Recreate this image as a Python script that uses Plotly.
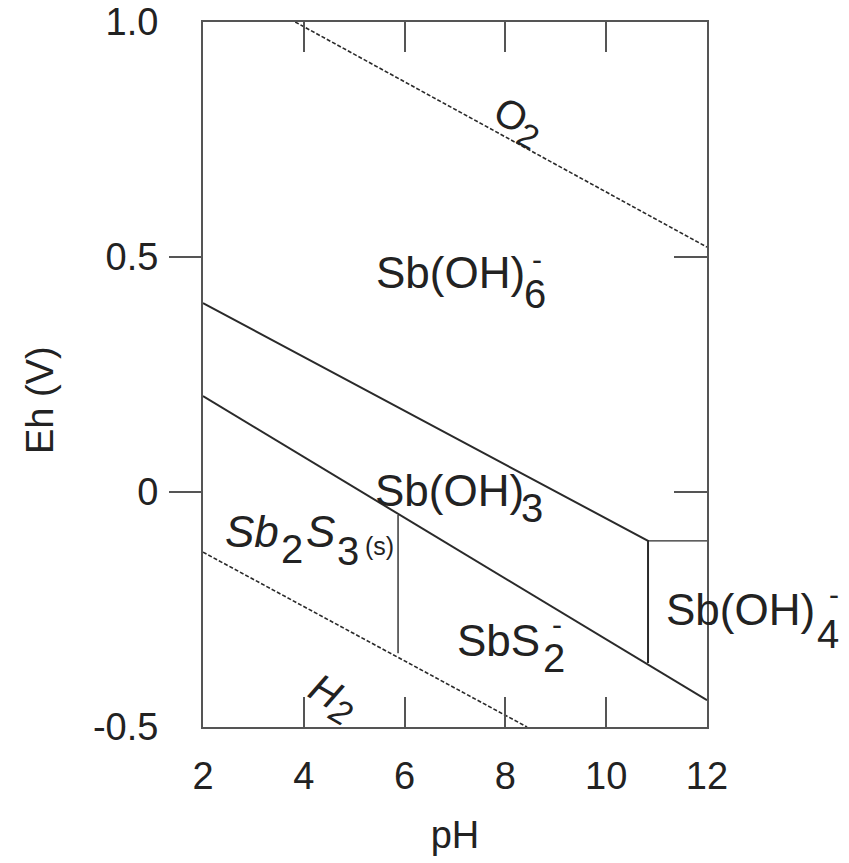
import plotly.graph_objects as go

# Boundary lines (pH, Eh)
o2_ph = [3.83, 12.0]
o2_eh = [1.0, 0.521]
h2_ph = [2.0, 8.43]
h2_eh = [-0.128, -0.5]
upper_ph = [2.0, 10.83, 10.83]
upper_eh = [0.402, -0.104, -0.364]
oh4_ph = [10.83, 12.0]
oh4_eh = [-0.104, -0.104]
lower_ph = [2.0, 12.0]
lower_eh = [0.204, -0.443]
sb2s3_ph = [5.87, 5.87]
sb2s3_eh = [-0.049, -0.343]

x_ticks = [2, 4, 6, 8, 10, 12]
y_ticks = [-0.5, 0, 0.5, 1.0]
y_ticktext = ["-0.5", "0", "0.5", "1.0"]
y_minor = [0, 0.5]

PH_MIN, PH_MAX = 2, 12

FONT = "Liberation Sans, Arial, sans-serif"
LINE = "#2a2a2a"
FRAME = "#555555"
TXT = "#222222"

fig = go.Figure()

def add_line(xs, ys, dash="solid", width=2):
    fig.add_trace(go.Scatter(x=xs, y=ys, mode="lines",
                             line=dict(color=LINE, width=width, dash=dash),
                             hoverinfo="skip", showlegend=False))

add_line(o2_ph, o2_eh, dash="4px,2px", width=1.6)
add_line(h2_ph, h2_eh, dash="4px,2px", width=1.6)
add_line(upper_ph, upper_eh, width=2)
add_line(oh4_ph, oh4_eh, width=1.4)
add_line(lower_ph, lower_eh, width=2)
add_line(sb2s3_ph, sb2s3_eh, width=1.4)

# invisible traces for overlay axes
fig.add_trace(go.Scatter(x=[2], y=[0], yaxis="y2", mode="markers",
                         marker=dict(opacity=0), hoverinfo="skip", showlegend=False))
fig.add_trace(go.Scatter(x=[2], y=[0], yaxis="y3", mode="markers",
                         marker=dict(opacity=0), hoverinfo="skip", showlegend=False))

def ann(x, y, text, angle=0, size=44, xanchor="center", yanchor="middle"):
    # labels beyond the pH range are placed by paper fraction so they stay visible
    if x > PH_MAX:
        kw = dict(x=(x - PH_MIN) / (PH_MAX - PH_MIN), xref="paper")
    else:
        kw = dict(x=x)
    fig.add_annotation(y=y, text=text, showarrow=False, xanchor=xanchor,
                       yanchor=yanchor, textangle=angle,
                       font=dict(family=FONT, size=size, color=TXT), **kw)

# Sb(OH)6-
ann(6.92, 0.468, "Sb(OH)")
ann(8.58, 0.421, "6", size=40)
ann(8.62, 0.494, "-", size=30)
# Sb(OH)3
ann(6.90, 0.004, "Sb(OH)")
ann(8.52, -0.034, "3", size=40)
# Sb2S3(s)
ann(2.97, -0.083, "<i>Sb</i>")
ann(3.76, -0.121, "2", size=40)
ann(4.34, -0.083, "<i>S</i>")
ann(4.88, -0.126, "3", size=40)
ann(5.50, -0.114, "(s)", size=25)
# SbS2-
ann(7.87, -0.315, "SbS")
ann(8.97, -0.353, "2", size=40)
ann(9.03, -0.282, "-", size=30)
# Sb(OH)4-
ann(12.67, -0.251, "Sb(OH)")
ann(14.40, -0.302, "4", size=40)
ann(14.52, -0.218, "-", size=30)
# O2 and H2
ann(8.25, 0.787, "O<sub><span style='font-size:34px'>2</span></sub>", angle=28.6, size=40)
ann(4.55, -0.440, "<i>H</i><sub><span style='font-size:34px'><i>2</i></span></sub>", angle=30, size=40)

# y axis title
fig.add_annotation(x=-0.323, y=0.464, xref="paper", yref="paper", text="Eh (V)",
                   showarrow=False, textangle=-90, xanchor="center", yanchor="middle",
                   font=dict(family=FONT, size=38, color=TXT))

fig.update_layout(
    width=849, height=863,
    margin=dict(l=203, r=142, t=22, b=136),
    plot_bgcolor="white", paper_bgcolor="white",
    showlegend=False,
    font=dict(family=FONT, size=38, color=TXT),
    xaxis=dict(range=[PH_MIN, PH_MAX], tickvals=x_ticks, ticks="inside", ticklen=30,
               tickwidth=2, tickcolor=FRAME, showline=True, linecolor=FRAME,
               linewidth=2, mirror="ticks", showgrid=False, zeroline=False,
               automargin=False, ticklabelstandoff=14,
               tickfont=dict(family=FONT, size=38, color=TXT),
               title=dict(text="pH", font=dict(family=FONT, size=38, color=TXT),
                          standoff=26)),
    yaxis=dict(range=[-0.5, 1.0], tickvals=y_ticks, ticktext=y_ticktext,
               ticks="outside", ticklen=35, tickcolor="rgba(0,0,0,0)",
               showline=True, linecolor=FRAME, linewidth=2, mirror=True,
               showgrid=False, zeroline=False, automargin=False,
               tickfont=dict(family=FONT, size=38, color=TXT)),
    yaxis2=dict(range=[-0.5, 1.0], overlaying="y", side="left", tickvals=y_minor,
                ticks="outside", ticklen=33, tickwidth=2, tickcolor=FRAME,
                showticklabels=False, showgrid=False, zeroline=False, showline=False,
                automargin=False),
    yaxis3=dict(range=[-0.5, 1.0], overlaying="y", side="right", tickvals=y_minor,
                ticks="inside", ticklen=33, tickwidth=2, tickcolor=FRAME,
                showticklabels=False, showgrid=False, zeroline=False, showline=False,
                automargin=False),
)

# remove the default 8px page margin so the figure sits at the window origin
fig.write_html("out.html", config={"displayModeBar": False},
               post_script="document.body.style.margin='0px';")
